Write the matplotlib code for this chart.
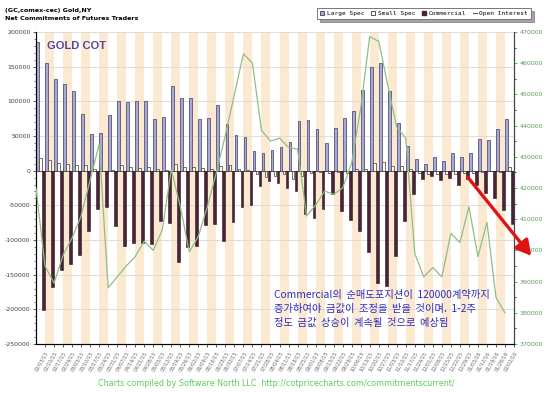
import numpy as np
import pandas as pd
import matplotlib
matplotlib.use('Agg')
import matplotlib.pyplot as plt
from matplotlib.patches import Patch, FancyArrowPatch
from matplotlib.lines import Line2D
from matplotlib.ticker import MultipleLocator

# weekly COT report dates
dates = pd.date_range('2015-02-03', '2016-02-02', freq='7D')
date_labels = [d.strftime('%m/%d/%y') for d in dates]

# net positions, thousands of contracts
large_spec = [186, 155, 132, 125, 115, 82, 53, 55, 81, 100, 98.5, 101, 101, 74, 77, 122, 105, 105,
              75, 76, 95, 67.5, 51.5, 48.5, 28.5, 25, 29.5, 33.5, 42, 71.5, 73, 59.5, 39.5, 62, 76,
              86.5, 116.5, 150, 156, 115, 69, 35, 17, 9.5, 20, 14, 26, 19, 26, 45, 44, 59.5, 74]
small_spec = [18, 15.5, 11.5, 9.5, 7.5, 7.5, 3, -0.5, 1, 7.5, 5, 4.5, 5, 2, 1, 9.5, 5.5, 5,
              3.5, 2.5, 6.5, 7.5, 2, 1, -5.5, -8.5, -7, -5.5, -12, -7.5, -4, -2.5, -4, -2.5, -4,
              2, 2, 11.5, 12, 7, 7, 2.5, -4, -5, -5.5, -5, -5.5, -4, -4, -2.5, -1, -1.5, 5]
commercial = [-201, -168, -143, -134, -122, -87, -56, -52, -80, -108, -104, -104, -106, -73, -76, -132, -110, -108,
              -79, -77, -101, -74, -52, -49, -22, -15, -18, -25, -29, -63, -68, -56, -34, -58, -71,
              -87, -118, -162, -166, -123, -73, -33, -12, -8, -14, -11, -21, -12, -20, -32, -40, -57, -77]
# open interest, thousands of contracts
open_interest = [420, 395, 389.5, 398.5, 404, 411, 422.5, 434, 388, 391.5, 395, 398, 403, 400, 406.5, 426, 414, 399.5,
                 404.5, 414, 425, 437, 450, 463, 460, 438.5, 435, 436, 433, 432.5, 411, 414.5, 419, 418, 420,
                 428, 445.5, 468.5, 467, 453, 439.5, 436, 399, 391.5, 394.5, 391.5, 405.5, 402.5, 414, 398, 409, 385, 380]

large_spec = np.array(large_spec) * 1000
small_spec = np.array(small_spec) * 1000
commercial = np.array(commercial) * 1000
open_interest = np.array(open_interest) * 1000

lav = '#a9a8d2'
maroon = '#4b2236'
green_line = '#8fbf84'
stripe = '#fce9d2'

x = np.arange(len(dates))

fig = plt.figure(figsize=(5.5, 3.93), dpi=100)
ax = fig.add_axes([36/550, 1-344/393, (514-36)/550, (344-32)/393])
ax.set_facecolor('white')

# alternating stripes, one per week
for i in x:
    if i % 2 == 1:
        ax.axvspan(i-0.5, i+0.5, color=stripe, zorder=0, lw=0)

ax.yaxis.grid(True, color='#d9d9d9', lw=0.6, zorder=1)
ax.set_axisbelow(True)

w = 0.31
ax.bar(x-1/3, large_spec, w, color=lav, edgecolor='#3c3b63', lw=0.5, zorder=3)
ax.bar(x, small_spec, w, color='#fffff4', edgecolor='#3b3b2b', lw=0.5, zorder=3)
ax.bar(x+1/3, commercial, w, color=maroon, edgecolor='#2d1420', lw=0.4, zorder=3)
ax.axhline(0, color='#333333', lw=0.6, zorder=2)

ax.set_xlim(-0.5, len(x)-0.5)
ax.set_ylim(-250000, 200000)
ax.yaxis.set_major_locator(MultipleLocator(50000))
ax.yaxis.set_minor_locator(MultipleLocator(10000))
ax.tick_params(axis='y', labelsize=4.5, colors='#444444', length=2.5, width=0.6, pad=1.5)
ax.tick_params(axis='y', which='minor', length=1.5, width=0.5, color='#444444')
ax.yaxis.set_major_formatter(matplotlib.ticker.FuncFormatter(lambda v, p: '%d' % v))

ax.set_xticks(x+0.5)
ax.set_xticklabels(date_labels, rotation=60, ha='right', rotation_mode='anchor',
                   fontsize=3.6, color='#666666')
ax.tick_params(axis='x', length=2.5, width=0.6, color='#444444', pad=2)

ax.spines['top'].set_visible(False)
for s in ['left', 'right', 'bottom']:
    ax.spines[s].set_color('#444444')
    ax.spines[s].set_linewidth(0.8)

ax2 = ax.twinx()
ax2.plot(x-0.5, open_interest, color=green_line, lw=0.9, zorder=4)
ax2.set_ylim(370000, 470000)
ax2.yaxis.set_major_locator(MultipleLocator(10000))
ax2.yaxis.set_minor_locator(MultipleLocator(5000))
ax2.tick_params(axis='y', labelsize=4.5, colors='#5a9a5a', length=2.5, width=0.6, pad=1.5)
ax2.tick_params(axis='y', which='minor', length=1.5, width=0.5)
ax2.spines['top'].set_visible(False)
ax2.spines['right'].set_color('#444444')
ax2.spines['right'].set_linewidth(0.8)

ax.text(0.023, 0.955, 'GOLD COT', transform=ax.transAxes, fontsize=8,
        fontweight='bold', family='Liberation Sans', color='#5246a2', va='center', zorder=6)

# headings
fig.text(5/550, 1-10.5/393, '(GC,comex-cec) Gold,NY', fontsize=4.6, fontweight='bold', va='center')
fig.text(5/550, 1-19/393, 'Net Commitments of Futures Traders', fontsize=4.6, fontweight='bold', va='center')

handles = [Patch(facecolor=lav, edgecolor='#3c3b63', lw=0.6),
           Patch(facecolor='white', edgecolor='#3b3b2b', lw=0.6),
           Patch(facecolor=maroon, edgecolor=maroon),
           Line2D([], [], color='#555555', lw=0.8)]
leg = fig.legend(handles, ['Large Spec', 'Small Spec', 'Commercial', 'Open Interest'],
                 ncol=4, loc='upper right', bbox_to_anchor=(534/550, 1-5/393),
                 prop={'family': 'DejaVu Sans Mono', 'size': 4.4}, frameon=True,
                 fancybox=False, shadow=True, handlelength=0.7, handleheight=0.7,
                 handletextpad=0.4, columnspacing=1.1, borderpad=0.45)
leg.get_frame().set_edgecolor('#777777')
leg.get_frame().set_linewidth(0.7)

# Korean note
kfont = ['Noto Sans CJK KR', 'DejaVu Sans']
notes = ['Commercial의  순매도포지션이  120000계약까지',
         '증가하여야  금값이  조정을  받을  것이며.  1-2주',
         '정도  금값  상승이  계속될  것으로  예상됨']
for k, line in enumerate(notes):
    fig.text(274/550, 1-(295+14*k)/393, line, family=kfont, fontsize=7.4,
             color='#2b2bbd', va='center', ha='left', zorder=7)

arrow = FancyArrowPatch((466/550, 1-175/393), (533/550, 1-258/393), transform=fig.transFigure,
                        arrowstyle='-|>,head_length=0.9,head_width=0.5', mutation_scale=10,
                        color='#e01212', lw=2.4, zorder=10)
fig.add_artist(arrow)

fig.text((95+458)/2/550, 1-383/393,
         'Charts compiled by Software North LLC  http://cotpricecharts.com/commitmentscurrent/',
         fontsize=5.8, color='#5ccc5c', ha='center', va='center')

fig.savefig('out.png', dpi=100)
